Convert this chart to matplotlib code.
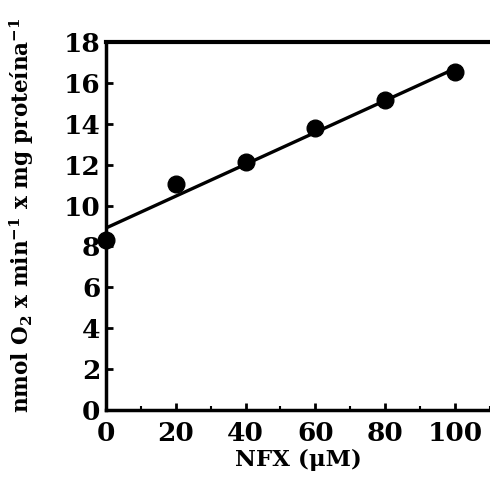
import matplotlib
matplotlib.use("Agg")
import matplotlib.pyplot as plt
from matplotlib.ticker import MultipleLocator

# data
nfx = [0, 20, 40, 60, 80, 100]
o2_rate = [8.3, 11.05, 12.15, 13.8, 15.17, 16.55]
fit_x = [0, 100]
fit_y = [8.9, 16.7]

x_ticks = [0, 20, 40, 60, 80, 100]
y_ticks = [0, 2, 4, 6, 8, 10, 12, 14, 16, 18]

plt.rcParams['font.family'] = ['DejaVu Serif']
plt.rcParams['font.weight'] = 'bold'
plt.rcParams['mathtext.fontset'] = 'dejavuserif'
plt.rcParams['mathtext.default'] = 'bf'

fig = plt.figure(figsize=(4.9, 4.83), dpi=100)
ax = fig.add_axes([0.216, 0.151, 0.784, 0.762])

ax.plot(fit_x, fit_y, color='black', lw=2.4, solid_capstyle='butt')
ax.plot(nfx, o2_rate, 'o', color='black', ms=12, clip_on=False, zorder=5)

ax.set_xlim(0, 110)
ax.set_ylim(0, 18)
ax.set_xticks(x_ticks)
ax.set_yticks(y_ticks)
ax.xaxis.set_minor_locator(MultipleLocator(10))

for s in ['left', 'bottom']:
    ax.spines[s].set_linewidth(2.5)
ax.spines['top'].set_linewidth(3)
ax.spines['right'].set_visible(False)

ax.tick_params(which='major', direction='in', length=5, width=2, labelsize=19)
ax.tick_params(axis='x', which='major', pad=8)
ax.tick_params(axis='y', which='major', pad=4)
ax.tick_params(which='minor', direction='in', length=3, width=1.5)
ax.tick_params(top=False, right=False, which='both')
for lab in ax.get_xticklabels() + ax.get_yticklabels():
    lab.set_fontweight('bold')

fig.text(298 / 490, 1 - 460 / 483, 'NFX (μM)', fontsize=16.5, fontweight='bold',
         ha='center', va='center')
fig.text(22 / 490, 1 - 215 / 483, r'nmol O$_2$ x min$^{-1}$ x mg proteína$^{-1}$',
         fontsize=15.5, fontweight='bold', rotation=90, ha='center', va='center')

fig.savefig('out.png', dpi=100)
